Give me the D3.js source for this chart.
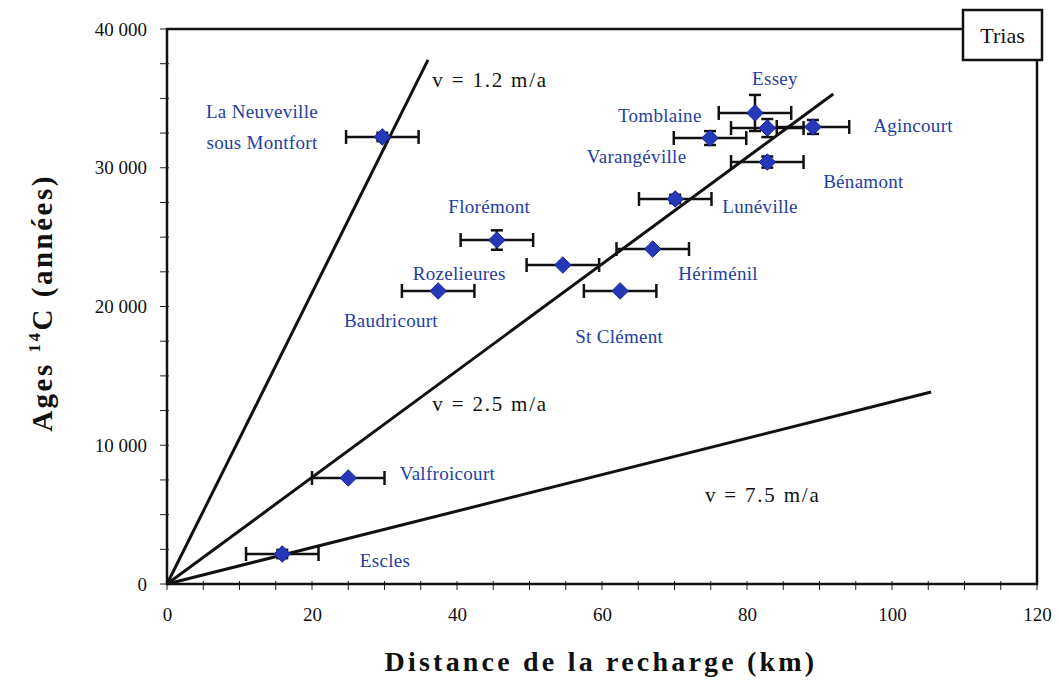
<!DOCTYPE html>
<html><head><meta charset="utf-8">
<script src="https://cdn.jsdelivr.net/npm/d3@7"></script>
<style>body{margin:0;background:#fff}svg{display:block}</style>
</head><body>
<svg id="c" width="1059" height="681"></svg>
<script>
// ---- data ----
const sites = ["La Neuveville","Essey","Tomblaine","Varangéville","Agincourt","Bénamont","Lunéville","Florémont","Rozelieures","Hériménil","St Clément","Baudricourt","Valfroicourt","Escles"];
const distKm = [29.7, 81.1, 82.8, 74.9, 89.1, 82.8, 70.1, 45.5, 54.6, 67.0, 62.5, 37.4, 25.0, 15.9];
const ageYr  = [32220, 33950, 32860, 32140, 32940, 30410, 27750, 24790, 22990, 24140, 21120, 21120, 7640, 2160];
const distErr = [5, 5, 5, 5, 5, 5, 5, 5, 5, 5, 5, 5, 5, 5];
const ageErr = [300, 1300, 650, 500, 500, 400, 300, 700, 0, 0, 0, 0, 0, 300];
const labelText = [["La Neuveville","sous Montfort"],["Essey"],["Tomblaine"],["Varangéville"],["Agincourt"],["Bénamont"],["Lunéville"],["Florémont"],["Rozelieures"],["Hériménil"],["St Clément"],["Baudricourt"],["Valfroicourt"],["Escles"]];
const labelX = [13.1, 80.7, 62.2, 57.9, 97.4, 90.5, 76.6, 38.8, 33.9, 70.5, 56.3, 24.4, 32.1, 26.6];
const labelY = [33590, 35960, 33300, 30340, 32580, 28540, 26740, 26740, 21910, 21910, 17370, 18520, 7500, 1230];
const labelAnchor = ["middle","start","start","start","start","start","start","start","start","start","start","start","start","start"];
const velLabels = ["v = 1.2 m/a","v = 2.5 m/a","v = 7.5 m/a"];
const velEndX = [36.0, 91.9, 105.4];
const velEndY = [37770, 35315, 13840];
const velLabelX = [36.6, 36.6, 74.2];
const velLabelY = [35820, 12470, 5910];
const xTicks = [0, 20, 40, 60, 80, 100, 120];
const yTicks = [0, 10000, 20000, 30000, 40000];
const yTickLabels = ["0", "10 000", "20 000", "30 000", "40 000"];

// ---- layout ----
const svg = d3.select("#c");
const L = 167, R = 1037, T = 29, B = 584;
const x = d3.scaleLinear().domain([0, 120]).range([L, R]);
const y = d3.scaleLinear().domain([0, 40000]).range([B, T]);
const serif = "'Liberation Serif','DejaVu Serif',serif";
const blue = "#1f3ea3";

// minor ticks
const xMinor = d3.range(0, 121, 5), yMinor = d3.range(0, 40001, 2500);
svg.append("g").selectAll("line").data(xMinor).join("line")
  .attr("x1", d => x(d)).attr("x2", d => x(d)).attr("y1", B - 3).attr("y2", B + 6)
  .attr("stroke", "#222").attr("stroke-width", 1);
svg.append("g").selectAll("line").data(yMinor).join("line")
  .attr("y1", d => y(d)).attr("y2", d => y(d)).attr("x1", L - 7).attr("x2", L + 2)
  .attr("stroke", "#222").attr("stroke-width", 1);

// axes via d3 (labels only)
const xAxis = svg.append("g").attr("transform", `translate(0,${B})`)
  .call(d3.axisBottom(x).tickValues(xTicks).tickSize(0).tickPadding(24));
xAxis.select(".domain").remove();
xAxis.selectAll("text").attr("font-family", serif).attr("font-size", 19).attr("fill", "#111");
const yAxis = svg.append("g").attr("transform", `translate(${L},0)`)
  .call(d3.axisLeft(y).tickValues(yTicks).tickFormat((d, i) => yTickLabels[i]).tickSize(0).tickPadding(20));
yAxis.select(".domain").remove();
yAxis.selectAll("text").attr("font-family", serif).attr("font-size", 19).attr("fill", "#111");

// frame
svg.append("rect").attr("x", L).attr("y", T).attr("width", R - L).attr("height", B - T)
  .attr("fill", "none").attr("stroke", "#111").attr("stroke-width", 2.5);

// velocity lines
svg.append("g").selectAll("line").data(velEndX).join("line")
  .attr("x1", x(0)).attr("y1", y(0))
  .attr("x2", (d, i) => x(d)).attr("y2", (d, i) => y(velEndY[i]))
  .attr("stroke", "#111").attr("stroke-width", 3);
svg.append("g").selectAll("text").data(velLabels).join("text")
  .attr("x", (d, i) => x(velLabelX[i])).attr("y", (d, i) => y(velLabelY[i]))
  .attr("font-family", serif).attr("font-size", 21).attr("letter-spacing", 1.8)
  .attr("fill", "#111").text(d => d);

// error bars
const eb = svg.append("g").attr("stroke", "#111").attr("stroke-width", 2.5);
sites.forEach((s, i) => {
  const cx = x(distKm[i]), cy = y(ageYr[i]);
  const x0 = x(distKm[i] - distErr[i]), x1 = x(distKm[i] + distErr[i]);
  eb.append("line").attr("x1", x0).attr("x2", x1).attr("y1", cy).attr("y2", cy);
  eb.append("line").attr("x1", x0).attr("x2", x0).attr("y1", cy - 7).attr("y2", cy + 7);
  eb.append("line").attr("x1", x1).attr("x2", x1).attr("y1", cy - 7).attr("y2", cy + 7);
  if (ageErr[i] > 0) {
    const y0 = y(ageYr[i] - ageErr[i]), y1 = y(ageYr[i] + ageErr[i]);
    eb.append("line").attr("x1", cx).attr("x2", cx).attr("y1", y0).attr("y2", y1);
    eb.append("line").attr("x1", cx - 6).attr("x2", cx + 6).attr("y1", y0).attr("y2", y0);
    eb.append("line").attr("x1", cx - 6).attr("x2", cx + 6).attr("y1", y1).attr("y2", y1);
  }
});

// diamonds
svg.append("g").selectAll("path").data(sites).join("path")
  .attr("d", d3.symbol(d3.symbolDiamond2, 175))
  .attr("transform", (d, i) => `translate(${x(distKm[i])},${y(ageYr[i])})`)
  .attr("fill", "#2438b8").attr("stroke", "#16249a").attr("stroke-width", 1);

// site labels
const lab = svg.append("g").selectAll("text").data(labelText).join("text")
  .attr("x", (d, i) => x(labelX[i])).attr("y", (d, i) => y(labelY[i]))
  .attr("text-anchor", (d, i) => labelAnchor[i])
  .attr("font-family", serif).attr("font-size", 19).attr("letter-spacing", 0.3).attr("fill", blue);
lab.each(function (lines, i) {
  const t = d3.select(this);
  lines.forEach((ln, k) => {
    t.append("tspan").attr("x", x(labelX[i])).attr("dy", k === 0 ? 0 : 31).text(ln);
  });
});

// Trias box
svg.append("rect").attr("x", 963).attr("y", 10).attr("width", 79).attr("height", 50)
  .attr("fill", "#fff").attr("stroke", "#111").attr("stroke-width", 2.5);
svg.append("text").attr("x", 1002.5).attr("y", 43).attr("text-anchor", "middle")
  .attr("font-family", serif).attr("font-size", 22).attr("fill", "#111").text("Trias");

// axis titles
svg.append("text").attr("x", 601).attr("y", 671).attr("text-anchor", "middle")
  .attr("font-family", serif).attr("font-weight", "bold").attr("font-size", 28).attr("letter-spacing", 3.2).attr("fill", "#111")
  .text("Distance de la recharge (km)");
const yt = svg.append("text").attr("transform", "translate(52,303) rotate(-90)").attr("text-anchor", "middle")
  .attr("font-family", serif).attr("font-weight", "bold").attr("font-size", 29).attr("letter-spacing", 2.5).attr("fill", "#111");
yt.append("tspan").text("Ages ");
yt.append("tspan").attr("font-size", 17).attr("dy", -12).text("14");
yt.append("tspan").attr("dy", 12).text("C (années)");
</script>
</body></html>
